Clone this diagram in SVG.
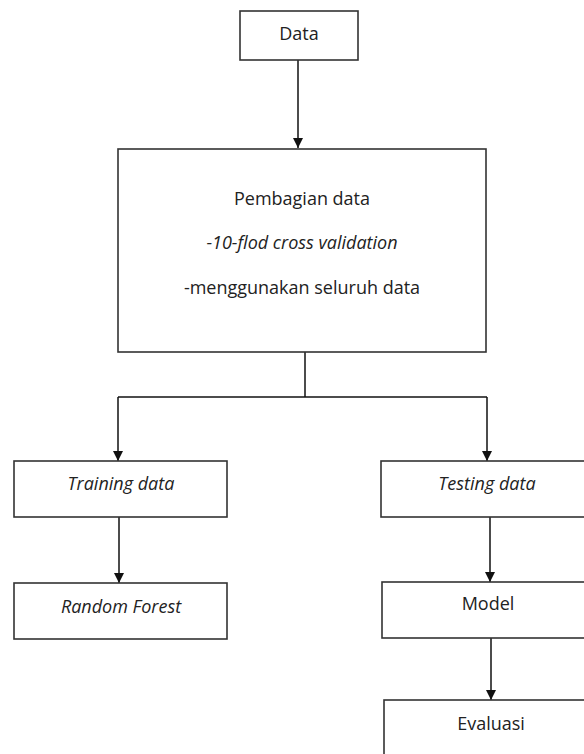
<svg xmlns="http://www.w3.org/2000/svg" width="584" height="754" viewBox="0 0 584 754">
<defs>
<marker id="ah" markerUnits="userSpaceOnUse" markerWidth="11" markerHeight="11" refX="10" refY="5" orient="auto">
<path d="M0,0 L10,5 L0,10 Z" fill="#111"/>
</marker>
<style>
.box{fill:#fff;stroke:#333;stroke-width:1.6}
.t{font-family:"Open Sans","Liberation Sans",sans-serif;font-size:18px;fill:#222;text-anchor:middle}
.i{font-style:italic}
.c{fill:none;stroke:#111;stroke-width:1.5}
</style>
</defs>
<rect width="584" height="754" fill="#fff"/>
<g id="connectors">
<line class="c" x1="298" y1="60" x2="298" y2="148" marker-end="url(#ah)"/>
<polyline class="c" points="305,352 305,397"/>
<polyline class="c" points="118,397 487,397"/>
<line class="c" x1="118" y1="397" x2="118" y2="461" marker-end="url(#ah)"/>
<line class="c" x1="487" y1="397" x2="487" y2="461" marker-end="url(#ah)"/>
<line class="c" x1="119" y1="517" x2="119" y2="583" marker-end="url(#ah)"/>
<line class="c" x1="490" y1="517" x2="490" y2="582" marker-end="url(#ah)"/>
<line class="c" x1="491" y1="638" x2="491" y2="700" marker-end="url(#ah)"/>
</g>
<g id="data">
<rect class="box" x="240" y="11" width="118" height="49"/>
<text class="t" x="299" y="40">Data</text>
</g>
<g id="pembagian">
<rect class="box" x="118" y="149" width="368" height="203"/>
<text class="t" x="302" y="205">Pembagian data</text>
<text class="t i" x="302" y="249">-10-flod cross validation</text>
<text class="t" x="302" y="294">-menggunakan seluruh data</text>
</g>
<g id="training">
<rect class="box" x="14" y="461" width="213" height="56"/>
<text class="t i" x="121" y="490">Training data</text>
</g>
<g id="randomforest">
<rect class="box" x="14" y="583" width="213" height="56"/>
<text class="t i" x="121" y="613">Random Forest</text>
</g>
<g id="testing">
<rect class="box" x="381" y="461" width="220" height="56"/>
<text class="t i" x="487" y="490">Testing data</text>
</g>
<g id="model">
<rect class="box" x="382" y="582" width="220" height="56"/>
<text class="t" x="488" y="610">Model</text>
</g>
<g id="evaluasi">
<rect class="box" x="384" y="700" width="220" height="70"/>
<text class="t" x="491" y="730">Evaluasi</text>
</g>
</svg>
